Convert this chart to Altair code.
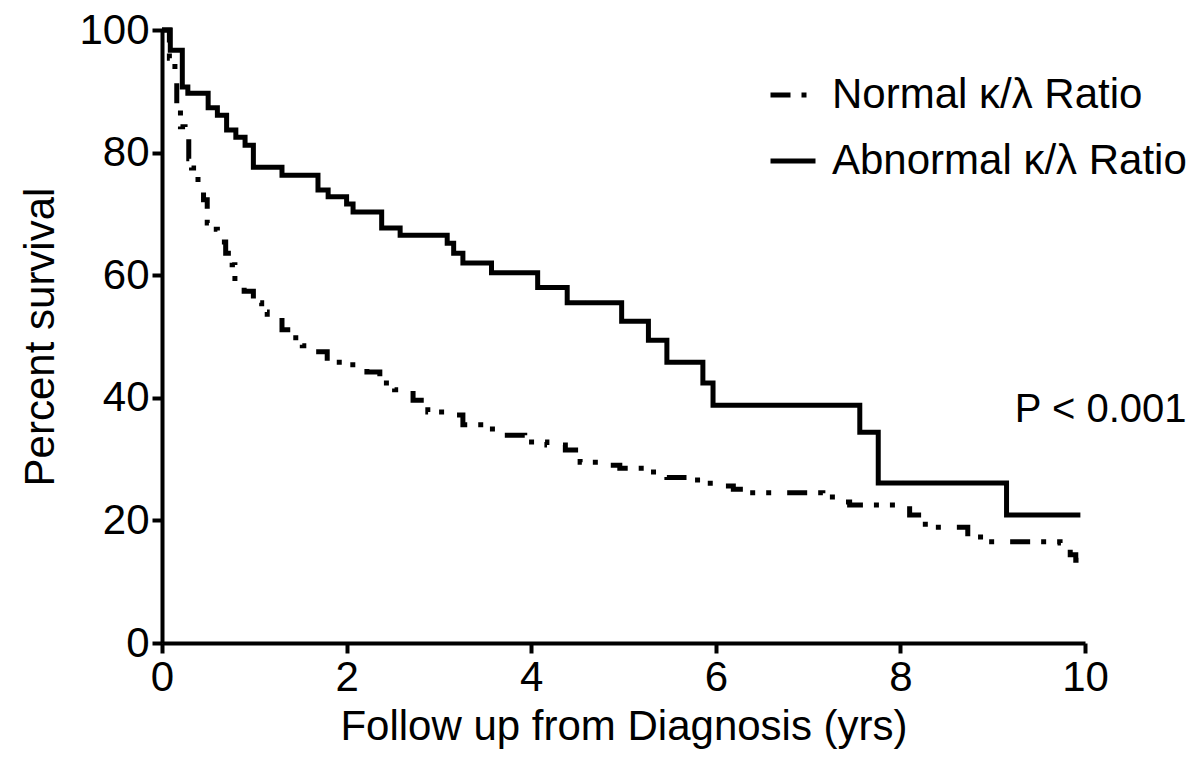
import altair as alt
import pandas as pd

# Abnormal kappa/lambda ratio (solid) - Kaplan-Meier steps
abn_time = [0, 0.09, 0.22, 0.28, 0.50, 0.60, 0.70, 0.80, 0.90, 0.99, 1.30, 1.69, 1.80,
            2.00, 2.07, 2.38, 2.58, 3.09, 3.16, 3.26, 3.57, 4.07, 4.39, 4.98, 5.27,
            5.47, 5.86, 5.97, 7.56, 7.76, 9.15, 9.95]
abn_surv = [100, 96.7, 90.7, 89.7, 87.3, 86.1, 83.7, 82.5, 81.2, 77.6, 76.3, 73.9, 72.8,
            71.6, 70.3, 67.7, 66.5, 65.2, 63.6, 62.0, 60.4, 58.0, 55.5, 52.5, 49.4,
            45.8, 42.4, 38.8, 34.4, 26.1, 20.9, 20.9]

# Normal kappa/lambda ratio (dash-dot) - Kaplan-Meier steps
nor_time = [0, 0.08, 0.14, 0.16, 0.20, 0.25, 0.29, 0.32, 0.39, 0.45, 0.49, 0.53, 0.60,
            0.69, 0.76, 0.79, 0.89, 0.99, 1.08, 1.14, 1.30, 1.42, 1.52, 1.60, 1.79,
            1.96, 2.22, 2.36, 2.52, 2.72, 2.88, 3.07, 3.26, 3.53, 3.68, 3.93, 4.17,
            4.37, 4.53, 4.80, 4.96, 5.25, 5.47, 5.69, 5.94, 6.19, 6.37, 7.16, 7.38,
            7.45, 8.10, 8.27, 8.73, 8.94, 9.73, 9.84, 9.90, 9.93]
nor_surv = [100, 95.4, 91.5, 87.4, 84.2, 82.5, 79.0, 77.5, 75.0, 72.3, 68.5, 67.5, 65.4,
            63.6, 61.7, 58.9, 57.4, 55.5, 54.0, 53.2, 51.1, 49.8, 48.5, 47.5, 45.8,
            45.4, 44.2, 42.4, 41.3, 39.6, 37.7, 37.2, 35.6, 34.9, 33.9, 32.8, 32.3,
            31.5, 29.5, 29.0, 28.5, 27.9, 27.0, 26.6, 25.6, 25.1, 24.5, 23.8, 23.0,
            22.5, 20.9, 18.9, 17.3, 16.5, 16.3, 14.4, 13.5, 13.5]

groups = ["Normal κ/λ Ratio", "Abnormal κ/λ Ratio"]
x_ticks = [0, 2, 4, 6, 8, 10]
y_ticks = [0, 20, 40, 60, 80, 100]

df = pd.concat([
    pd.DataFrame({"t": nor_time, "s": nor_surv, "g": groups[0], "o": range(len(nor_time))}),
    pd.DataFrame({"t": abn_time, "s": abn_surv, "g": groups[1], "o": range(len(abn_time))}),
])

FONT = "Liberation Sans"

xs = alt.Scale(domain=[0, 10], nice=False)
ys = alt.Scale(domain=[0, 100], nice=False)

lines = alt.Chart(df).mark_line(
    interpolate="step-after", strokeWidth=5, color="black", strokeCap="butt"
).encode(
    x=alt.X("t:Q", scale=xs, axis=alt.Axis(values=x_ticks, format="d",
                                           title="Follow up from Diagnosis (yrs)",
                                           labelPadding=4, titlePadding=8, labelFlush=False)),
    y=alt.Y("s:Q", scale=ys, axis=alt.Axis(values=y_ticks, format="d", title="Percent survival",
                                           labelPadding=3, titlePadding=16, labelFlush=False)),
    strokeDash=alt.StrokeDash(
        "g:N",
        scale=alt.Scale(domain=groups, range=[[20, 11, 5, 11, 5, 16], [1, 0]]),
        legend=alt.Legend(
            title=None, orient="none", legendX=606, legendY=40,
            symbolType="stroke", symbolSize=2025, symbolStrokeWidth=5,
            symbolStrokeColor="black", labelFont=FONT, labelFontSize=42,
            labelColor="black", labelOffset=14, rowPadding=20, labelLimit=1000,
        ),
    ),
    order="o:Q",
)

ptext = alt.Chart(pd.DataFrame({"label": ["P < 0.001"]})).mark_text(
    align="left", baseline="middle", fontSize=40, font=FONT, color="black"
).encode(x=alt.datum(9.24), y=alt.datum(38), text="label:N")

chart = alt.layer(lines, ptext).properties(
    width=923, height=613,
    autosize=alt.AutoSizeParams(type="none"),
    padding={"left": 154, "top": 22, "right": 108, "bottom": 110},
).configure_view(stroke=None).configure_axis(
    grid=False, domainColor="black", domainWidth=4, tickColor="black", tickWidth=4,
    tickSize=10, labelFont=FONT, labelFontSize=42, labelColor="black",
    titleFont=FONT, titleFontSize=42, titleFontWeight="normal", titleColor="black",
)

chart.save("out.html", embed_options={"renderer": "svg", "actions": False})
